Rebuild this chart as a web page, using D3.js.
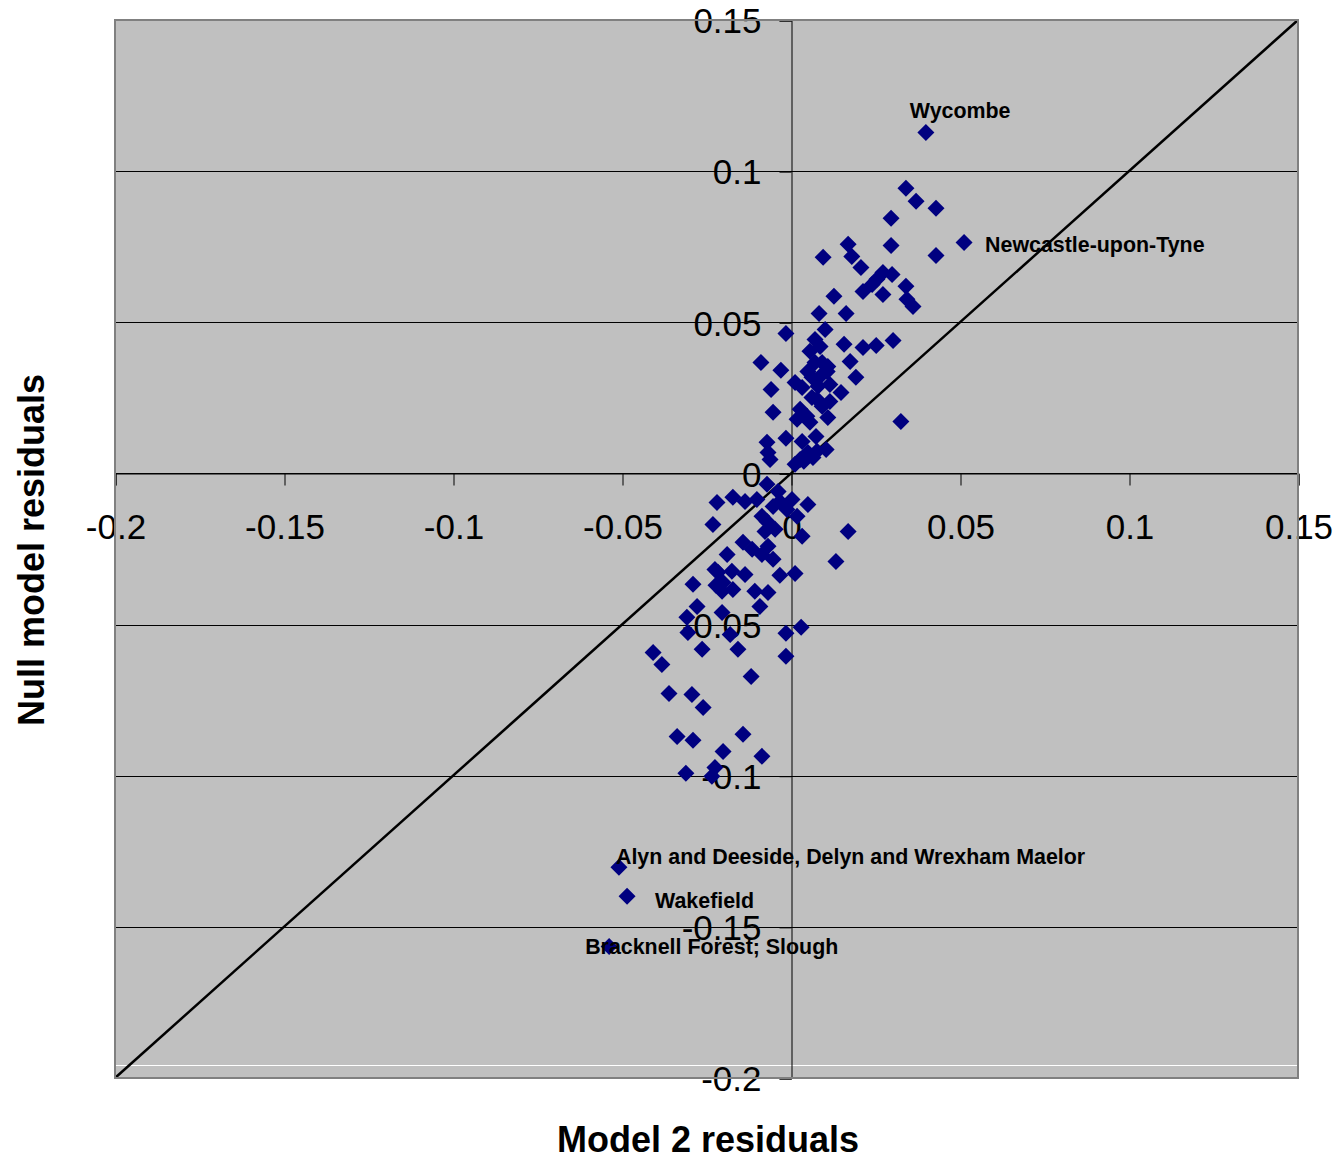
<!DOCTYPE html>
<html>
<head>
<meta charset="utf-8">
<script src="https://cdn.jsdelivr.net/npm/d3@7"></script>
<style>
  body { margin: 0; background: #fff; }
  svg text { font-family: "Liberation Sans", Arial, sans-serif; }
</style>
</head>
<body>
<svg id="chart" width="1338" height="1159"></svg>
<script>
// model 2 residuals (x) and null model residuals (y)
var model2 = [
  0.0399, 0.0340, 0.0370, 0.0429, 0.0296, 0.0512, 0.0296, 0.0429, 0.0169, 0.0095,
  0.0180, 0.0207, 0.0272, 0.0299, 0.0254, 0.0240, 0.0213, 0.0272, 0.0340, 0.0361,
  0.0343, 0.0127, 0.0083, 0.0163, 0.0101, -0.0015, 0.0071, 0.0086, 0.0157, 0.0213,
  0.0252, 0.0302, 0.0175, 0.0071, 0.0109, -0.0089, -0.0030, 0.0192, 0.0086, 0.0012,
  -0.0059, 0.0080, 0.0115, 0.0148, 0.0033, 0.0077, 0.0115, -0.0053, 0.0027, 0.0047,
  0.0092, 0.0109, 0.0325, 0.0018, 0.0074, -0.0015, 0.0033, -0.0071, -0.0068, 0.0050,
  0.0104, 0.0056, 0.0050, 0.0107, 0.0092, 0.0062, 0.0062, 0.0056, -0.0062, 0.0077,
  0.0027, 0.0012, 0.0038, 0.0065,
  -0.0071, -0.0038, -0.0219, -0.0172, -0.0136, -0.0101, -0.0033, 0.0003, 0.0050, -0.0053,
  -0.0012, 0.0018, -0.0086, -0.0231, -0.0071, -0.0047, 0.0033, 0.0169, -0.0077, -0.0068,
  -0.0142, -0.0115, -0.0189, -0.0086, -0.0053, 0.0133, -0.0216, -0.0175, -0.0136, -0.0033,
  0.0012, -0.0290, -0.0201, -0.0204, -0.0172, -0.0107, -0.0068, -0.0092, -0.0278, -0.0204,
  -0.0308, -0.0305, -0.0180, -0.0263, -0.0157, -0.0015, 0.0030, -0.0015, -0.0408, -0.0382,
  -0.0118, -0.0361, -0.0293, -0.0260, -0.0337, -0.0290, -0.0142, -0.0201, -0.0086, -0.0311,
  -0.0225, -0.0234, -0.0225, -0.0222,
  -0.0509, -0.0485, -0.0538
];
var nullModel = [
  0.1128, 0.0943, 0.0900, 0.0877, 0.0844, 0.0764, 0.0754, 0.0721, 0.0758, 0.0715,
  0.0718, 0.0681, 0.0665, 0.0658, 0.0642, 0.0625, 0.0602, 0.0592, 0.0619, 0.0552,
  0.0576, 0.0586, 0.0529, 0.0529, 0.0476, 0.0463, 0.0443, 0.0420, 0.0427, 0.0417,
  0.0423, 0.0440, 0.0370, 0.0367, 0.0354, 0.0367, 0.0341, 0.0318, 0.0321, 0.0301,
  0.0278, 0.0288, 0.0294, 0.0268, 0.0284, 0.0245, 0.0238, 0.0202, 0.0212, 0.0189,
  0.0222, 0.0185, 0.0172, 0.0179, 0.0122, 0.0116, 0.0106, 0.0103, 0.0069, 0.0069,
  0.0079, 0.0404, 0.0337, 0.0337, 0.0367, 0.0318, 0.0251, 0.0169, 0.0046, 0.0073,
  0.0046, 0.0030, 0.0040, 0.0053,
  -0.0036, -0.0060, -0.0096, -0.0079, -0.0093, -0.0086, -0.0093, -0.0086, -0.0103, -0.0109,
  -0.0119, -0.0142, -0.0142, -0.0169, -0.0159, -0.0185, -0.0208, -0.0192, -0.0192, -0.0241,
  -0.0228, -0.0251, -0.0268, -0.0268, -0.0284, -0.0291, -0.0327, -0.0324, -0.0334, -0.0337,
  -0.0331, -0.0367, -0.0361, -0.0390, -0.0384, -0.0390, -0.0394, -0.0440, -0.0440, -0.0460,
  -0.0476, -0.0526, -0.0533, -0.0582, -0.0582, -0.0529, -0.0509, -0.0605, -0.0592, -0.0632,
  -0.0672, -0.0728, -0.0731, -0.0774, -0.0870, -0.0883, -0.0863, -0.0920, -0.0936, -0.0992,
  -0.0973, -0.1002, -0.0318, -0.0370,
  -0.1303, -0.1399, -0.1565
];

var labelNames = ["Wycombe", "Newcastle-upon-Tyne", "Alyn and Deeside, Delyn and Wrexham Maelor", "Wakefield", "Bracknell Forest; Slough"];
var labelX = [0.0399, 0.0512, -0.0509, -0.0485, -0.0538];
var labelY = [0.1128, 0.0764, -0.1303, -0.1399, -0.1565];
// label offsets in px relative to the point (text start, text middle)
var labelDx = [-16, 21, -3, 28, -24];
var labelDy = [-22, 2, -11, 4, 0];

var xTicks = [-0.2, -0.15, -0.1, -0.05, 0, 0.05, 0.1, 0.15];
var yTicks = [0.15, 0.1, 0.05, 0, -0.05, -0.1, -0.15, -0.2];

(function() {
  var svg = d3.select('#chart');
  var pLeft = 115, pRight = 1298, pTop = 20, pBottom = 1078;
  var fmt = function(d) { return String(d); };

  var x = d3.scaleLinear().domain([-0.2, 0.15]).range([pLeft, pRight]);
  var y = d3.scaleLinear().domain([-0.2, 0.15]).range([pBottom, pTop]);

  // plot background
  svg.append('rect').attr('x', pLeft).attr('y', pTop)
    .attr('width', pRight - pLeft).attr('height', pBottom - pTop)
    .attr('fill', '#c0c0c0');

  // horizontal gridlines
  svg.append('g').selectAll('line').data(yTicks).enter().append('line')
    .attr('x1', pLeft).attr('x2', pRight)
    .attr('y1', function(d) { return Math.round(y(d)) + 0.5; })
    .attr('y2', function(d) { return Math.round(y(d)) + 0.5; })
    .attr('stroke', '#000').attr('stroke-width', 1);

  // odd white line near bottom of the plot
  svg.append('line').attr('x1', pLeft).attr('x2', pRight)
    .attr('y1', 1065.5).attr('y2', 1065.5)
    .attr('stroke', '#fff').attr('stroke-width', 1);

  // axes crossing at zero
  var xAxis = d3.axisBottom(x).tickValues(xTicks).tickSize(12).tickFormat(fmt);
  var yAxis = d3.axisLeft(y).tickValues(yTicks).tickSize(12).tickFormat(fmt);

  var gx = svg.append('g').attr('transform', 'translate(0.5,' + (Math.round(y(0)) + 0.5) + ')').call(xAxis);
  var gy = svg.append('g').attr('transform', 'translate(' + (Math.round(x(0)) + 0.5) + ',0.5)').call(yAxis);

  [gx, gy].forEach(function(g) {
    g.select('.domain').attr('stroke', '#000').attr('stroke-width', 1);
    g.selectAll('.tick line').attr('stroke', '#000').attr('stroke-width', 1);
    g.selectAll('.tick text').attr('fill', '#000')
      .style('font-family', '"Liberation Sans", Arial, sans-serif')
      .style('font-size', '35px');
  });
  gx.selectAll('.tick text').attr('y', 41).attr('dy', '0.71em');
  gy.selectAll('.tick text').attr('x', -30).attr('dy', '0.35em');

  // y = x reference line
  svg.append('line')
    .attr('x1', x(-0.2)).attr('y1', y(-0.2))
    .attr('x2', x(0.15)).attr('y2', y(0.15))
    .attr('stroke', '#000').attr('stroke-width', 2.5);

  // points
  var pts = model2.map(function(d, i) { return [d, nullModel[i]]; });
  svg.append('g').selectAll('path').data(pts).enter().append('path')
    .attr('d', 'M0,-8.5L8.5,0L0,8.5L-8.5,0Z')
    .attr('transform', function(d) { return 'translate(' + x(d[0]) + ',' + y(d[1]) + ')'; })
    .attr('fill', '#000080');

  // point labels
  svg.append('g').selectAll('text').data(labelNames).enter().append('text')
    .attr('x', function(d, i) { return x(labelX[i]) + labelDx[i]; })
    .attr('y', function(d, i) { return y(labelY[i]) + labelDy[i]; })
    .attr('dy', '0.35em')
    .attr('font-size', 21.4).attr('font-weight', 'bold').attr('fill', '#000')
    .text(function(d) { return d; });

  // plot border
  svg.append('rect').attr('x', pLeft).attr('y', pTop)
    .attr('width', pRight - pLeft).attr('height', pBottom - pTop)
    .attr('fill', 'none').attr('stroke', '#808080').attr('stroke-width', 2);

  // axis titles
  svg.append('text').attr('x', 708).attr('y', 1152)
    .attr('text-anchor', 'middle').attr('font-size', 36).attr('font-weight', 'bold')
    .text('Model 2 residuals');
  svg.append('text')
    .attr('transform', 'translate(44,550) rotate(-90)')
    .attr('text-anchor', 'middle').attr('font-size', 36).attr('font-weight', 'bold')
    .text('Null model residuals');
})();
</script>
</body>
</html>
